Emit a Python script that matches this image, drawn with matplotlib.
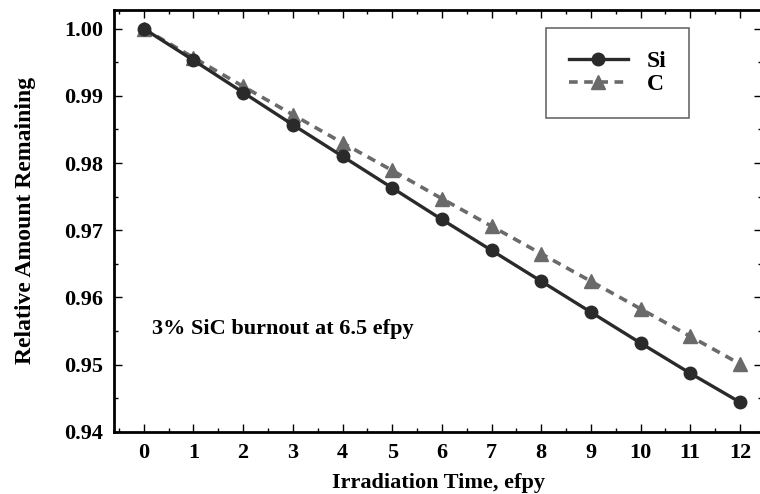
import matplotlib.pyplot as plt
from matplotlib.ticker import MultipleLocator

plt.rcParams["font.family"] = ["Liberation Serif", "DejaVu Serif"]
plt.rcParams["font.weight"] = "bold"

# relativ mengde igjen per år
years = [0, 1, 2, 3, 4, 5, 6, 7, 8, 9, 10, 11, 12]
si_remaining = [1.0000, 0.9953, 0.9905, 0.9857, 0.9810, 0.9763, 0.9716,
                0.9670, 0.9624, 0.9578, 0.9532, 0.9487, 0.9444]
c_remaining = [1.0000, 0.9957, 0.9914, 0.9872, 0.9830, 0.9789, 0.9747,
               0.9706, 0.9665, 0.9624, 0.9583, 0.9542, 0.9501]

fig = plt.figure(figsize=(7.6, 4.94), dpi=100)
ax = fig.add_axes([0.150, 0.126, 0.853, 0.854])

ax.plot(years, si_remaining, color="#2a2a2a", lw=2.4, marker="o",
        markersize=9, label="Si", zorder=3)
ax.plot(years, c_remaining, color="#6a6a6a", lw=2.6, ls=(0, (2.4, 1.8)),
        marker="^", markersize=9.5, label="C", zorder=2)

ax.set_xlim(-0.6, 12.45)
ax.set_ylim(0.94, 1.0028)
ax.xaxis.set_major_locator(MultipleLocator(1))
ax.xaxis.set_minor_locator(MultipleLocator(0.5))
ax.set_yticks([0.94, 0.95, 0.96, 0.97, 0.98, 0.99, 1.00])
ax.set_yticklabels(["0.94", "0.95", "0.96", "0.97", "0.98", "0.99", "1.00"])
ax.yaxis.set_minor_locator(MultipleLocator(0.005))

ax.tick_params(which="both", direction="in", top=True, right=True,
               labelsize=16, pad=8)
ax.tick_params(which="major", length=6, width=1)
ax.tick_params(which="minor", length=3, width=1)
for s in ax.spines.values():
    s.set_linewidth(2)

ax.set_xlabel("Irradiation Time, efpy", fontsize=16, fontweight="bold", labelpad=7)
ax.set_ylabel("Relative Amount Remaining", fontsize=17, fontweight="bold", labelpad=20)

ax.text(0.17, 0.9553, "3% SiC burnout at 6.5 efpy", fontsize=16,
        fontweight="bold", va="center")

leg = ax.legend(loc="upper right", bbox_to_anchor=(0.887, 0.957), fontsize=17,
                handlelength=2.5, frameon=True, fancybox=False,
                borderpad=0.95, labelspacing=0.08, handletextpad=0.8,
                borderaxespad=0)
leg.get_frame().set_edgecolor("#444444")
leg.get_frame().set_linewidth(1.2)

fig.savefig("out.png", dpi=100, facecolor="white")
